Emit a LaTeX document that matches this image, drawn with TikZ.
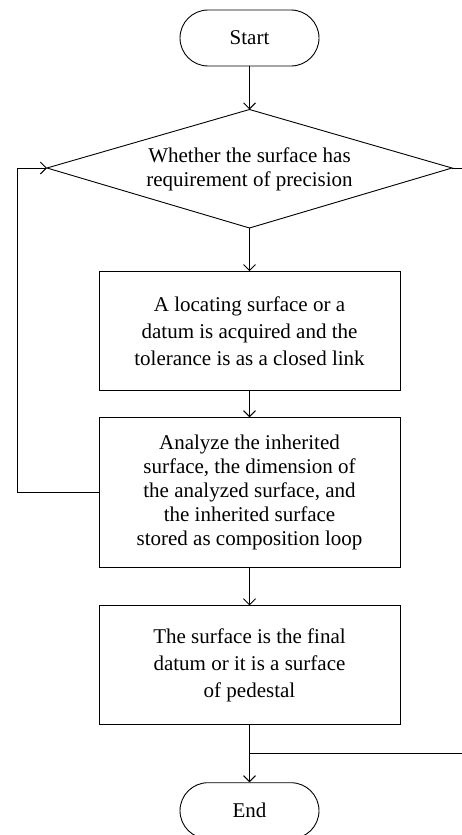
\documentclass[tikz,border=0pt]{standalone}
\usepackage{fontspec}
\setmainfont{Liberation Serif}
\usetikzlibrary{arrows.meta}
\begin{document}
\begin{tikzpicture}[x=1pt,y=-1pt,
  line width=0.9pt,
  txt/.style={font=\fontsize{21}{24}\selectfont},
  term/.style={draw, rounded corners=28pt, minimum width=139pt, minimum height=56pt, inner sep=0pt, txt},
  proc/.style={draw, minimum width=301pt, inner sep=0pt, align=center, txt},
  arr/.style={-{Straight Barb[length=6pt,width=12pt,line width=0.9pt]}},
  plain/.style={-}]
\clip (0,0) rectangle (462,835);
\useasboundingbox (0,0) rectangle (462,835);

\node[term] (start) at (249.5,38) {Start};

% decision diamond
\coordinate (dt) at (249.5,109.5);
\coordinate (dl) at (47,168);
\coordinate (dr) at (452,168);
\coordinate (db) at (249.5,228);
\draw (dt) -- (dr) -- (db) -- (dl) -- cycle;
\node[txt, align=center, inner sep=0pt] (dtext) at (249.5,169) {Whether the surface has\\requirement of precision};

\node[proc, minimum height=118.5pt, font=\fontsize{21}{27}\selectfont] (box1) at (249.5,330.9)
  {A locating surface or a\\datum is acquired and the\\tolerance is as a closed link};
\node[proc, minimum height=150pt] (box2) at (249.5,492.7)
  {Analyze the inherited\\surface, the dimension of\\the analyzed surface, and\\the inherited surface\\stored as composition loop};
\node[proc, minimum height=118.3pt, font=\fontsize{21}{27}\selectfont] (box3) at (249.5,664.9)
  {The surface is the final\\datum or it is a surface\\of pedestal};
\node[term] (end) at (249.5,810.7) {End};

\coordinate (lp) at (17,168);
\coordinate (re1) at (462,168);
\coordinate (jn) at (249.5,753.7);
\coordinate (re2) at (462,753.7);

\draw[arr] (start) -- (dt);
\draw[arr] (db) -- (box1);
\draw[arr] (box1) -- (box2);
\draw[arr] (box2) -- (box3);
\draw[arr] (box3) -- (end);
\draw[arr] (box2.west) -| (lp) -- (dl);
\draw[plain] (dr) -- (re1);
\draw[plain] (jn) -- (re2);
\end{tikzpicture}
\end{document}
